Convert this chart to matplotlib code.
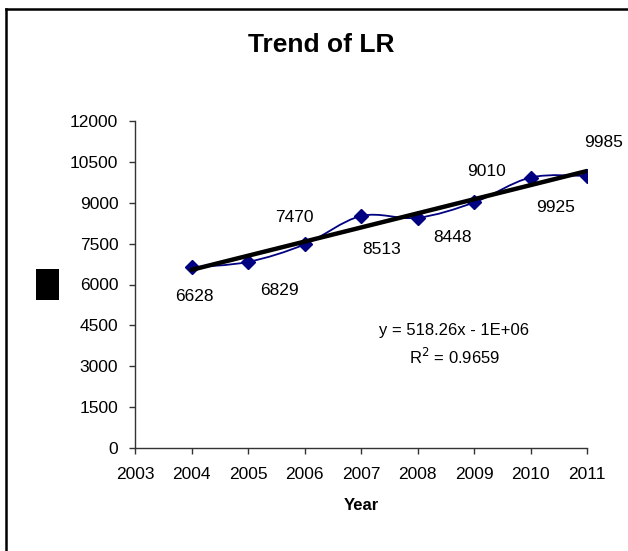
import numpy as np
import matplotlib
matplotlib.use("Agg")
import matplotlib.pyplot as plt
from matplotlib.path import Path
from matplotlib.patches import PathPatch, Rectangle
from matplotlib.lines import Line2D

plt.rcParams['font.family'] = ['Liberation Sans', 'DejaVu Sans']

# Series
years = [2004, 2005, 2006, 2007, 2008, 2009, 2010, 2011]
lr_values = [6628, 6829, 7470, 8513, 8448, 9010, 9925, 9985]
x_ticks = [2003, 2004, 2005, 2006, 2007, 2008, 2009, 2010, 2011]
y_ticks = [0, 1500, 3000, 4500, 6000, 7500, 9000, 10500, 12000]

# Data label placement (offsets in pixels from each point)
label_offsets = [(3, -29), (31, -29), (-10, 27), (21, -33),
                 (35, -20), (12, 31), (25, -30), (17, 33)]

W, H, DPI = 628, 551, 100
fig = plt.figure(figsize=(W / DPI, H / DPI), dpi=DPI)

ax_l, ax_r, ax_t, ax_b = 135, 587, 121, 448
ax = fig.add_axes([ax_l / W, (H - ax_b) / H, (ax_r - ax_l) / W, (ax_b - ax_t) / H])

ax.set_xlim(x_ticks[0], x_ticks[-1])
ax.set_ylim(y_ticks[0], y_ticks[-1])
ax.set_xticks(x_ticks)
ax.set_yticks(y_ticks)
ax.set_xticklabels([str(v) for v in x_ticks])
ax.set_yticklabels([str(v) for v in y_ticks])
for s in ('top', 'right'):
    ax.spines[s].set_visible(False)
for s in ('left', 'bottom'):
    ax.spines[s].set_color('#333333')
    ax.spines[s].set_linewidth(1.0)
ax.tick_params(axis='both', direction='out', length=4, width=1.0, color='#333333',
               labelsize=12.5, labelcolor='black')
ax.tick_params(axis='x', pad=10)
ax.tick_params(axis='y', pad=8)

# Smoothed series line (Catmull-Rom style Bezier segments)
xs = np.array(years, dtype=float)
ys = np.array(lr_values, dtype=float)
pts = np.column_stack([xs, ys])
n = len(pts)
verts = [tuple(pts[0])]
codes = [Path.MOVETO]
for i in range(n - 1):
    p0 = pts[i - 1] if i > 0 else pts[i]
    p1 = pts[i]
    p2 = pts[i + 1]
    p3 = pts[i + 2] if i + 2 < n else pts[i + 1]
    c1 = p1 + (p2 - p0) / 6.0
    c2 = p2 - (p3 - p1) / 6.0
    verts += [tuple(c1), tuple(c2), tuple(p2)]
    codes += [Path.CURVE4] * 3
ax.add_patch(PathPatch(Path(verts, codes), facecolor='none', edgecolor='#000080',
                       linewidth=1.3, zorder=2))

ax.plot(years, lr_values, linestyle='none', marker='D', markersize=7,
        markerfacecolor='#000080', markeredgecolor='#000080', zorder=3)

# Linear trend line
slope, intercept = np.polyfit(xs, ys, 1)
fit = slope * xs + intercept
r2 = 1 - np.sum((ys - fit) ** 2) / np.sum((ys - ys.mean()) ** 2)
ax.plot([xs[0], xs[-1]], [fit[0], fit[-1]], color='black', linewidth=3.2,
        solid_capstyle='round', zorder=4)

for x, y, (dx, dy) in zip(years, lr_values, label_offsets):
    ax.annotate(str(y), (x, y), xytext=(dx, dy), textcoords='offset pixels',
                ha='center', va='center', fontsize=12.5, annotation_clip=False)

# Trend equation
fig.text(454 / W, 1 - 330 / H, f"y = {slope:.2f}x - 1E+06", ha='center', va='center',
         fontsize=12)
fig.text(454 / W, 1 - 357 / H, f"R$^2$ = {r2:.4f}", ha='center', va='center',
         fontsize=12)

fig.text(321 / W, 1 - 45 / H, "Trend of LR", ha='center', va='center',
         fontsize=19, fontweight='bold')
fig.text(361 / W, 1 - 506 / H, "Year", ha='center', va='center',
         fontsize=12, fontweight='bold')

# Y-axis title block
fig.add_artist(Rectangle((36 / W, 1 - 300 / H), 23 / W, 31 / H,
                         facecolor='black', edgecolor='none', transform=fig.transFigure))

# Chart area frame
fig.add_artist(Line2D([6.3 / W, 6.3 / W], [0, 1 - 9 / H], color='black',
                      linewidth=1.8, transform=fig.transFigure))
fig.add_artist(Line2D([6.3 / W, 1.0], [1 - 9 / H, 1 - 9 / H], color='black',
                      linewidth=1.8, transform=fig.transFigure, solid_capstyle='projecting'))

fig.savefig("out.png", dpi=DPI, facecolor='white')
